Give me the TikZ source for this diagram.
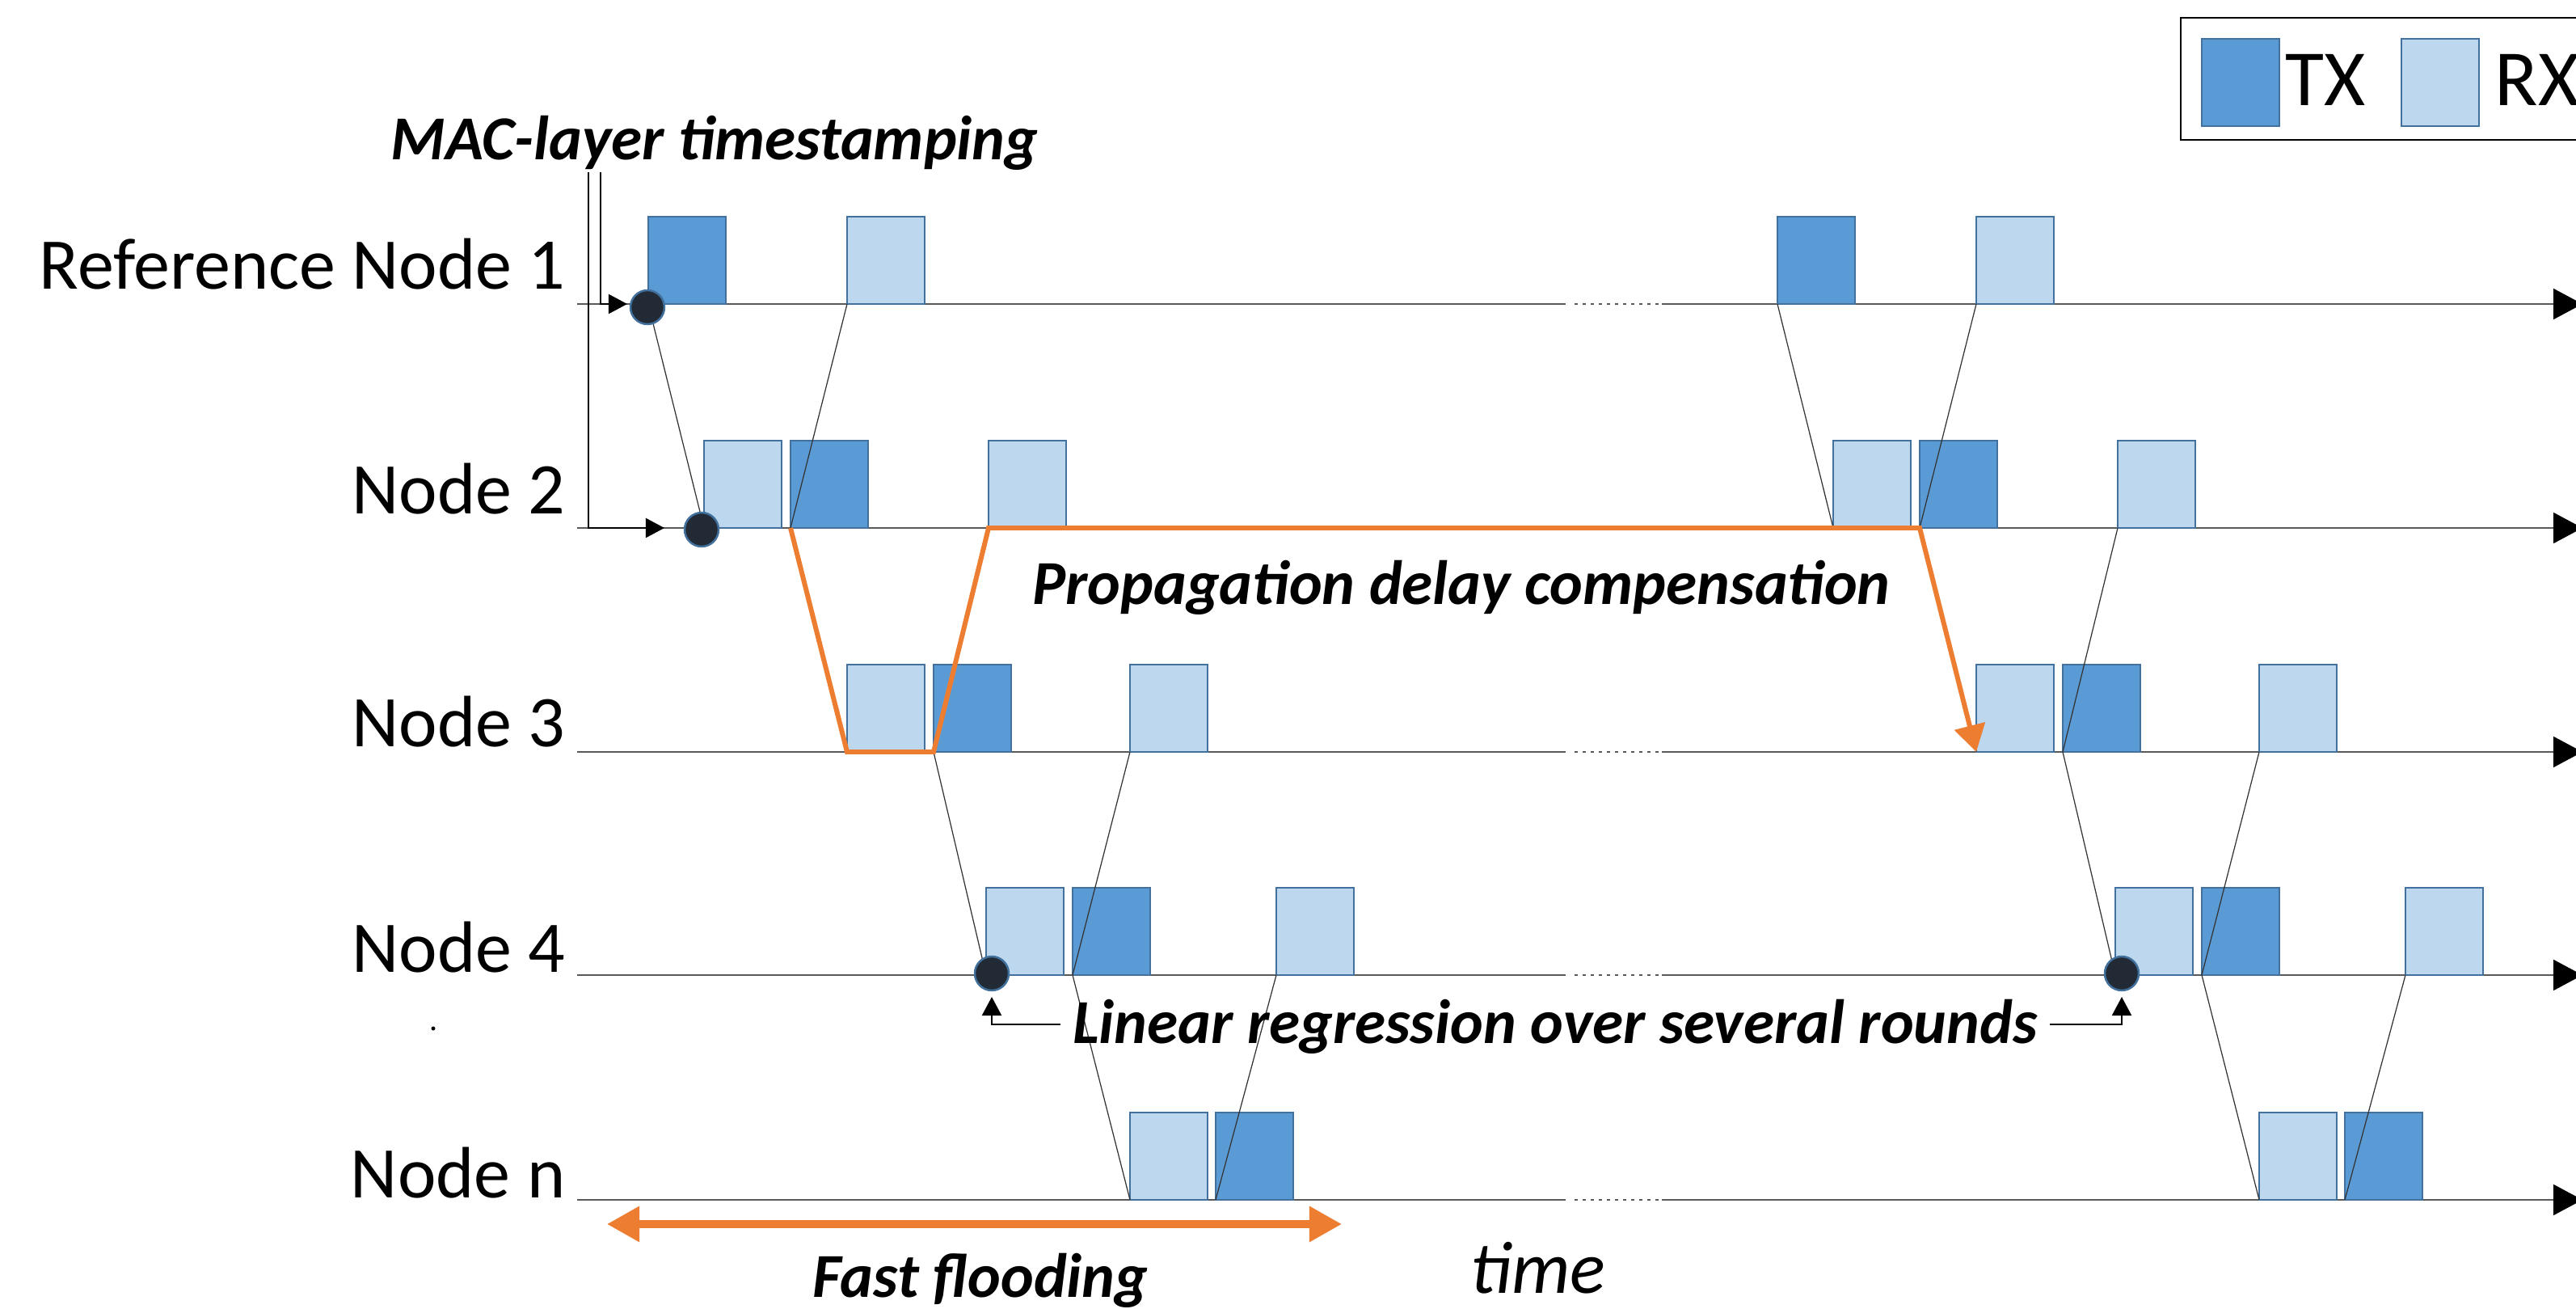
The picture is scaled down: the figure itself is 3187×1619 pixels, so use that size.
\documentclass[tikz,border=0pt]{standalone}
\usepackage{fontspec}
\setmainfont{Carlito}
\usetikzlibrary{arrows.meta}
\definecolor{txfill}{HTML}{5B9BD5}
\definecolor{rxfill}{HTML}{BDD7EE}
\definecolor{boxline}{HTML}{41719C}
\definecolor{orng}{HTML}{ED7D31}
\definecolor{dotfill}{HTML}{222A35}
\definecolor{tlgray}{HTML}{595959}
\definecolor{conngray}{HTML}{333333}
\begin{document}
\begin{tikzpicture}[x=0.01cm,y=-0.01cm,
  pkt/.style={draw=boxline, line width=0.6pt, minimum width=0.96cm, minimum height=1.08cm, inner sep=0pt, outer sep=0pt, anchor=south west},
  txbox/.style={pkt, fill=txfill},
  rxbox/.style={pkt, fill=rxfill},
  tsdot/.style={circle, fill=dotfill, draw=boxline, line width=0.7pt, minimum size=0.42cm, inner sep=0pt, outer sep=0pt},
  timeline/.style={draw=tlgray, line width=0.55pt},
  tlarrow/.style={timeline, -{Triangle[length=0.36cm,width=0.38cm,color=black]}},
  tlgap/.style={timeline, dash pattern=on 0.04cm off 0.06cm},
  conn/.style={draw=conngray, line width=0.35pt},
  prop/.style={draw=orng, line width=1.7pt, line join=miter, -{Triangle[length=0.33cm,width=0.38cm]}},
  flood/.style={draw=orng, line width=2.6pt, {Triangle[length=0.4cm,width=0.42cm]}-{Triangle[length=0.4cm,width=0.42cm]}},
  pointer/.style={draw=black, line width=0.6pt, -{Triangle[length=0.23cm,width=0.24cm]}},
  rowlabel/.style={font=\fontsize{25.6}{30}\selectfont, inner sep=0pt, anchor=base east},
  note/.style={font=\fontsize{22}{26}\selectfont\bfseries\itshape, inner sep=0pt, anchor=base},
  legtext/.style={font=\fontsize{28}{32}\selectfont, inner sep=0pt, anchor=base west},
]
\useasboundingbox (0,0) rectangle (3187,1619);
\fill[white] (0,0) rectangle (3187,1619);

% timelines
\foreach \yy in {376,653,930,1206,1484} {
  \draw[timeline] (714,\yy) -- (1937,\yy);
  \draw[tlgap] (1948,\yy) -- (2052,\yy);
  \draw[tlarrow] (2056,\yy) -- (3195,\yy);
}

% row labels
\node[rowlabel] (lab1) at (700,358) {Reference Node 1};
\node[rowlabel] (lab2) at (700,636) {Node 2};
\node[rowlabel] (lab3) at (700,924) {Node 3};
\node[rowlabel] (lab4) at (700,1202) {Node 4};
\node[rowlabel] (lab5) at (700,1481) {Node n};
\node[circle, fill=black, minimum size=0.05cm, inner sep=0pt] (sdot) at (536,1272) {};

% packets
\foreach \off/\rr in {0/a,1397/b} {
  \node[txbox] (t1\rr) at (802+\off,376) {};
  \node[rxbox] (r1\rr) at (1048+\off,376) {};
  \node[rxbox] (ra2\rr) at (871+\off,653) {};
  \node[txbox] (t2\rr) at (978+\off,653) {};
  \node[rxbox] (rb2\rr) at (1223+\off,653) {};
  \node[rxbox] (ra3\rr) at (1048+\off,930) {};
  \node[txbox] (t3\rr) at (1155+\off,930) {};
  \node[rxbox] (rb3\rr) at (1398+\off,930) {};
  \node[rxbox] (ra4\rr) at (1220+\off,1206) {};
  \node[txbox] (t4\rr) at (1327+\off,1206) {};
  \node[rxbox] (rb4\rr) at (1579+\off,1206) {};
  \node[rxbox] (ra5\rr) at (1398+\off,1484) {};
  \node[txbox] (t5\rr) at (1504+\off,1484) {};
}

% propagation lines
\foreach \rr in {a,b} {
  \draw[conn] (t1\rr.south west) -- (ra2\rr.south west);
  \draw[conn] (t2\rr.south west) -- (r1\rr.south west);
  \draw[conn] (t2\rr.south west) -- (ra3\rr.south west);
  \draw[conn] (t3\rr.south west) -- (rb2\rr.south west);
  \draw[conn] (t3\rr.south west) -- (ra4\rr.south west);
  \draw[conn] (t4\rr.south west) -- (rb3\rr.south west);
  \draw[conn] (t4\rr.south west) -- (ra5\rr.south west);
  \draw[conn] (t5\rr.south west) -- (rb4\rr.south west);
}

% timestamp dots
\node[tsdot] (dA) at (801,380) {};
\node[tsdot] (dB) at (868,655) {};
\node[tsdot] (dC) at (1227,1204) {};
\node[tsdot] (dD) at (2625,1204) {};

% orange propagation delay compensation path
\draw[prop] (t2a.south west) -- (ra3a.south west) -- (t3a.south west) -- (rb2a.south west) -- (t2b.south west) -- (ra3b.south west);

% fast flooding arrow
\coordinate (ffL) at (751,1514);
\coordinate (ffR) at (1660,1514);
\draw[flood] (ffL) -- (ffR);

% annotations
\node[note] (mac) at (884,198) {MAC-layer timestamping};
\node[note] (pdc) at (1808,748) {Propagation delay compensation};
\node[note, inner xsep=0.14cm, text height=0.56cm, text depth=0.10cm] (lr) at (1924,1290) {Linear regression over several rounds};
\node[note] (ff) at (1213,1604) {Fast flooding};
\node[font=\fontsize{26}{30}\selectfont\itshape, inner sep=0pt, anchor=base] (tm) at (1903,1599) {time};

% pointers
\coordinate (macA) at (743,213);
\coordinate (macB) at (728,213);
\draw[pointer, shorten >=0.04cm] (macA) |- ([yshift=0.04cm]dA.west);
\draw[pointer, shorten >=0.25cm] (macB) |- ([yshift=0.02cm]dB.west);
\draw[pointer, shorten >=0.08cm] (lr.west) -| (dC.south);
\draw[pointer, shorten >=0.08cm] (lr.east) -| (dD.south);

% legend
\node[draw=black, line width=0.75pt, minimum width=5.3cm, minimum height=1.51cm, inner sep=0pt, outer sep=0pt, anchor=north west] (legend) at (2698,22) {};
\node[txbox] (ltx) at (2724,156) {};
\node[legtext] (ltxt) at (2827,131) {TX};
\node[rxbox] (lrx) at (2971,156) {};
\node[legtext] (lrxt) at (3086,131) {RX};
\end{tikzpicture}
\end{document}
